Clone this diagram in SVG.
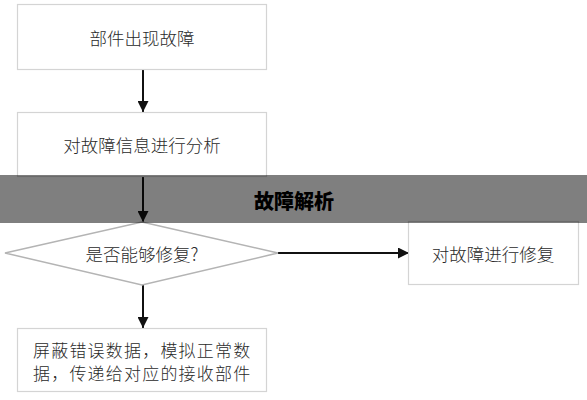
<svg xmlns="http://www.w3.org/2000/svg" width="587" height="400" viewBox="0 0 587 400">
<defs>
<style>
.box{fill:#fff;stroke:#d4d4d4;stroke-width:1.2}
.dia{fill:#fff;stroke:#b4b4b4;stroke-width:1.5}
.t{font-family:"Noto Sans CJK SC","Noto Sans CJK JP",sans-serif;font-size:17.5px;font-weight:300;fill:#2a2a2a;text-anchor:middle;dominant-baseline:central}
.tl{text-anchor:start;font-size:17px;letter-spacing:1.2px}
.ln{stroke:#111;stroke-width:2;fill:none}
.banner-t{font-family:"Noto Sans CJK SC",sans-serif;font-size:20px;font-weight:900;fill:#000;text-anchor:middle;dominant-baseline:central}
</style>
<marker id="ah" viewBox="0 0 10 10" refX="10" refY="5" markerWidth="5.5" markerHeight="5.5" orient="auto" markerUnits="strokeWidth">
<path d="M0,0 L10,5 L0,10 Z" fill="#111"/>
</marker>
</defs>
<rect width="587" height="400" fill="#fff"/>
<g id="connectors">
<line class="ln" x1="143" y1="69" x2="143" y2="112" marker-end="url(#ah)"/>
<line class="ln" x1="143" y1="176" x2="143" y2="222" marker-end="url(#ah)"/>
<line class="ln" x1="278" y1="253" x2="409" y2="253" marker-end="url(#ah)"/>
<line class="ln" x1="143" y1="285" x2="143" y2="328" marker-end="url(#ah)"/>
</g>
<g id="node1">
<rect class="box" x="17.5" y="4.5" width="249" height="65"/>
<text class="t" x="142" y="37">部件出现故障</text>
</g>
<g id="node2">
<rect class="box" x="17.5" y="112.5" width="249" height="64"/>
<text class="t" x="142" y="144">对故障信息进行分析</text>
</g>
<g id="node3">
<polygon class="dia" points="142,222 278,253 142,285 5,253"/>
<text class="t" x="142" y="253">是否能够修复?</text>
</g>
<g id="node4">
<rect class="box" x="408.5" y="221.5" width="170" height="63"/>
<text class="t" x="493" y="253">对故障进行修复</text>
</g>
<g id="node5">
<rect class="box" x="17.5" y="328.5" width="249" height="63"/>
<text class="t tl" x="33" y="349">屏蔽错误数据，模拟正常数</text>
<text class="t tl" x="33" y="372">据，传递给对应的接收部件</text>
</g>
<g id="banner">
<rect x="0" y="175" width="587" height="48" fill="#000" fill-opacity="0.5"/>
<text class="banner-t" x="294" y="200">故障解析</text>
</g>
</svg>
